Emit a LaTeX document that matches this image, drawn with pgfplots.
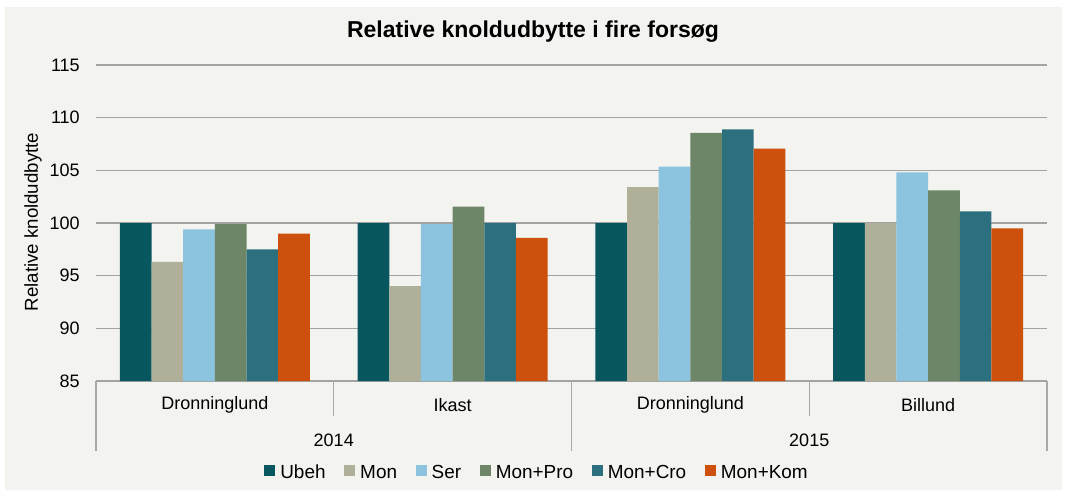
\documentclass[border=0pt]{standalone}
\usepackage{fontspec}
\setmainfont{Liberation Sans}
\usepackage{pgfplots}
\pgfplotsset{compat=1.18}
\definecolor{cUbeh}{HTML}{08575F}
\definecolor{cMon}{HTML}{B0AF9A}
\definecolor{cSer}{HTML}{8CC3DE}
\definecolor{cPro}{HTML}{6C8667}
\definecolor{cCro}{HTML}{2C7080}
\definecolor{cKom}{HTML}{CD510C}
\definecolor{bgc}{HTML}{F3F3EF}
\definecolor{gridc}{HTML}{A3A3A3}
\definecolor{sepc}{HTML}{A8A8A8}
\begin{document}
\begin{tikzpicture}
\useasboundingbox (0,0) rectangle (799.5pt,370.5pt);
\fill[white] (0,0) rectangle (799.5pt,370.5pt);
\fill[bgc] (3.75pt,3pt) rectangle (796.5pt,365.25pt);
\node[font=\fontsize{17.25}{20}\selectfont\bfseries] at (399.75pt,346.5pt) {Relative knoldudbytte i fire forsøg};
\node[rotate=90, font=\fontsize{14}{16}\selectfont] at (24.75pt,204pt) {Relative knoldudbytte};
\begin{axis}[
  at={(72pt,84.75pt)}, anchor=south west,
  scale only axis, width=713.25pt, height=237pt,
  ybar=0pt, bar width=0.1332,
  xmin=-0.5, xmax=3.5, ymin=85, ymax=115,
  xtick={0,1,2,3}, xticklabels={Dronninglund,Ikast,Dronninglund,Billund},
  ytick={85,90,...,115},
  /pgf/number format/assume math mode=true,
  ymajorgrids, grid style={color=gridc, line width=1.1pt},
  axis line style={draw=none}, major tick style={draw=none},
  xticklabel style={anchor=center, yshift=-13.5pt, font=\fontsize{13.5}{16}\selectfont},
  yticklabel style={anchor=east, inner sep=0pt, xshift=-12pt, font=\fontsize{13.5}{16}\selectfont},
  clip=false,
  legend columns=6,
  legend style={at={(0.4627,-0.2911)}, anchor=center, draw=none, fill=none,
    font=\fontsize{14.2}{16}\selectfont, column sep=0pt,
    nodes={inner sep=0pt},
    /tikz/every odd column/.append style={column sep=3.75pt},
    /tikz/every even column/.append style={column sep=14pt}},
  legend image code/.code={\fill[#1] (0pt,-2.2pt) rectangle (8.25pt,6.05pt);},
]
\addplot[fill=cUbeh, draw=none] coordinates {(0,100) (1,100) (2,100) (3,100)};
\addplot[fill=cMon, draw=none] coordinates {(0,96.3) (1,94.0) (2,103.4) (3,100.0)};
\addplot[fill=cSer, draw=none] coordinates {(0,99.4) (1,99.9) (2,105.35) (3,104.8)};
\addplot[fill=cPro, draw=none] coordinates {(0,99.9) (1,101.55) (2,108.56) (3,103.1)};
\addplot[fill=cCro, draw=none] coordinates {(0,97.5) (1,100.0) (2,108.9) (3,101.1)};
\addplot[fill=cKom, draw=none] coordinates {(0,99.0) (1,98.6) (2,107.05) (3,99.5)};
\legend{Ubeh,Mon,Ser,Mon+Pro,Mon+Cro,Mon+Kom}
\draw[sepc, line width=0.8pt] (axis cs:-0.5,85) -- ++(0pt,-52.5pt);
\draw[sepc, line width=0.8pt] (axis cs:1.5,85) -- ++(0pt,-52.5pt);
\draw[sepc, line width=0.8pt] (axis cs:3.5,85) -- ++(0pt,-52.5pt);
\draw[sepc, line width=0.8pt] (axis cs:0.5,85) -- ++(0pt,-26.25pt);
\draw[sepc, line width=0.8pt] (axis cs:2.5,85) -- ++(0pt,-26.25pt);
\node[font=\fontsize{13.5}{16}\selectfont, yshift=-44.25pt] at (axis cs:0.5,85) {2014};
\node[font=\fontsize{13.5}{16}\selectfont, yshift=-44.25pt] at (axis cs:2.5,85) {2015};
\end{axis}
\end{tikzpicture}
\end{document}
